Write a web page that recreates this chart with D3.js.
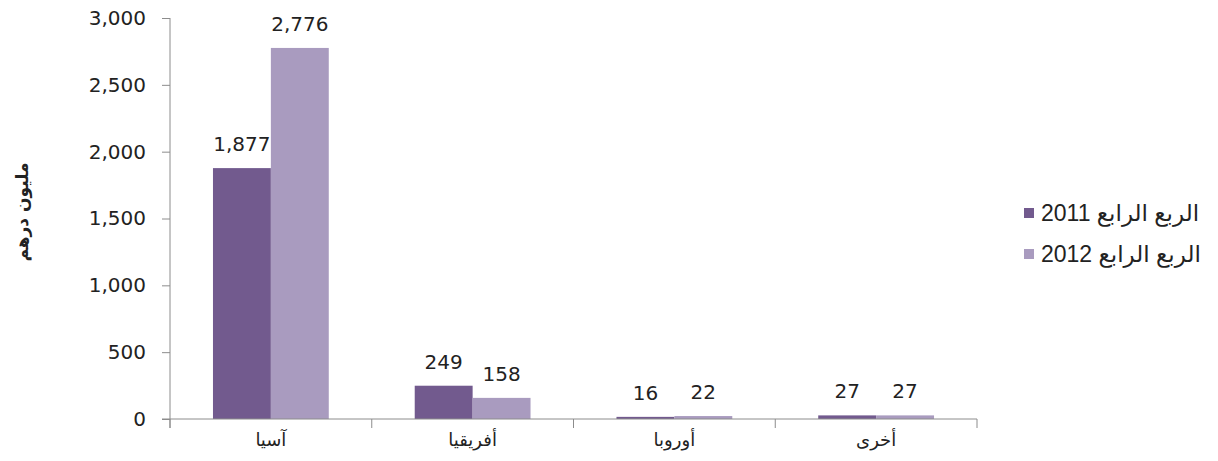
<!DOCTYPE html>
<html>
<head>
<meta charset="utf-8">
<script src="https://cdn.jsdelivr.net/npm/d3@7"></script>
<style>
  body { margin: 0; background: #fff; }
  text { font-family: "DejaVu Sans", Verdana, sans-serif; fill: #222; }
  .ar { font-family: "Liberation Sans", "DejaVu Sans", Arial, sans-serif; }
</style>
</head>
<body>
<div id="app"></div>
<script>
const categories = ["آسيا", "أفريقيا", "أوروبا", "أخرى"];
const seriesNames = ["الربع الرابع 2011", "الربع الرابع 2012"];
const values2011 = [1877, 249, 16, 27];
const values2012 = [2776, 158, 22, 27];
const yTicks = [0, 500, 1000, 1500, 2000, 2500, 3000];
const colors = ["#725a8e", "#a99bbf"];

const width = 1218, height = 461;
const m = { left: 170, right: 977, top: 18, bottom: 419 };

const svg = d3.select("#app").append("svg")
  .attr("width", width).attr("height", height);

const x = d3.scaleBand().domain(categories)
  .range([m.left, m.right]).paddingInner(0.426).paddingOuter(0.213);
const xs = d3.scaleBand().domain([0, 1]).range([0, x.bandwidth()]);
const y = d3.scaleLinear().domain([0, 3000]).range([m.bottom, m.top]);

// بيانات الأعمدة
const rows = categories.map((c, i) => ({ c, v: [values2011[i], values2012[i]] }));

const g = svg.append("g");
rows.forEach(r => {
  r.v.forEach((v, s) => {
    const bx = x(r.c) + xs(s);
    g.append("rect")
      .attr("x", bx).attr("width", xs.bandwidth())
      .attr("y", y(v)).attr("height", y(0) - y(v))
      .attr("fill", colors[s]);
    g.append("text")
      .attr("x", bx + xs.bandwidth() / 2)
      .attr("y", y(v) - 17)
      .attr("text-anchor", "middle")
      .style("font-size", "20px")
      .text(d3.format(",")(v));
  });
});

// محور ص
const yAxis = svg.append("g")
  .attr("transform", `translate(${m.left},0)`)
  .call(d3.axisLeft(y).tickValues(yTicks).tickFormat(d3.format(",")).tickSize(8).tickSizeOuter(0).tickPadding(16));
yAxis.select(".domain").attr("stroke", "#8c8c8c").attr("d", `M0,${m.top}V${m.bottom + 9}`);
yAxis.selectAll(".tick line").attr("stroke", "#8c8c8c");
yAxis.selectAll(".tick text").style("font-size", "20px").attr("fill", "#222");

// محور س
const xAxis = svg.append("g")
  .attr("transform", `translate(0,${m.bottom})`);
xAxis.append("line").attr("x1", m.left - 8).attr("x2", m.right)
  .attr("stroke", "#8c8c8c");
const bounds = categories.map(c => x(c) - x.step() * x.paddingInner() / 2).concat([m.right]);
xAxis.selectAll(".xt").data(bounds).join("line")
  .attr("x1", d => d).attr("x2", d => d).attr("y1", 0).attr("y2", 9)
  .attr("stroke", "#8c8c8c");
xAxis.selectAll(".xl").data(categories).join("text")
  .attr("class", "ar")
  .attr("x", d => x(d) + x.bandwidth() / 2)
  .attr("y", 27)
  .attr("text-anchor", "middle")
  .style("font-size", "18px")
  .text(d => d);

// عنوان المحور
svg.append("text")
  .attr("transform", "translate(28,212) rotate(-90)")
  .attr("text-anchor", "middle")
  .style("font-size", "17px").style("font-weight", "bold")
  .text("مليون درهم");

// وسيلة الإيضاح
const legY = [213, 254];
seriesNames.forEach((n, s) => {
  svg.append("rect").attr("x", 1024).attr("y", legY[s] - 5)
    .attr("width", 10).attr("height", 10).attr("fill", colors[s]);
  svg.append("text")
    .attr("class", "ar")
    .attr("x", 1041).attr("y", legY[s] + 8)
    .attr("direction", "rtl").attr("text-anchor", "end")
    .style("font-size", "23px")
    .text(n);
});
</script>
</body>
</html>
